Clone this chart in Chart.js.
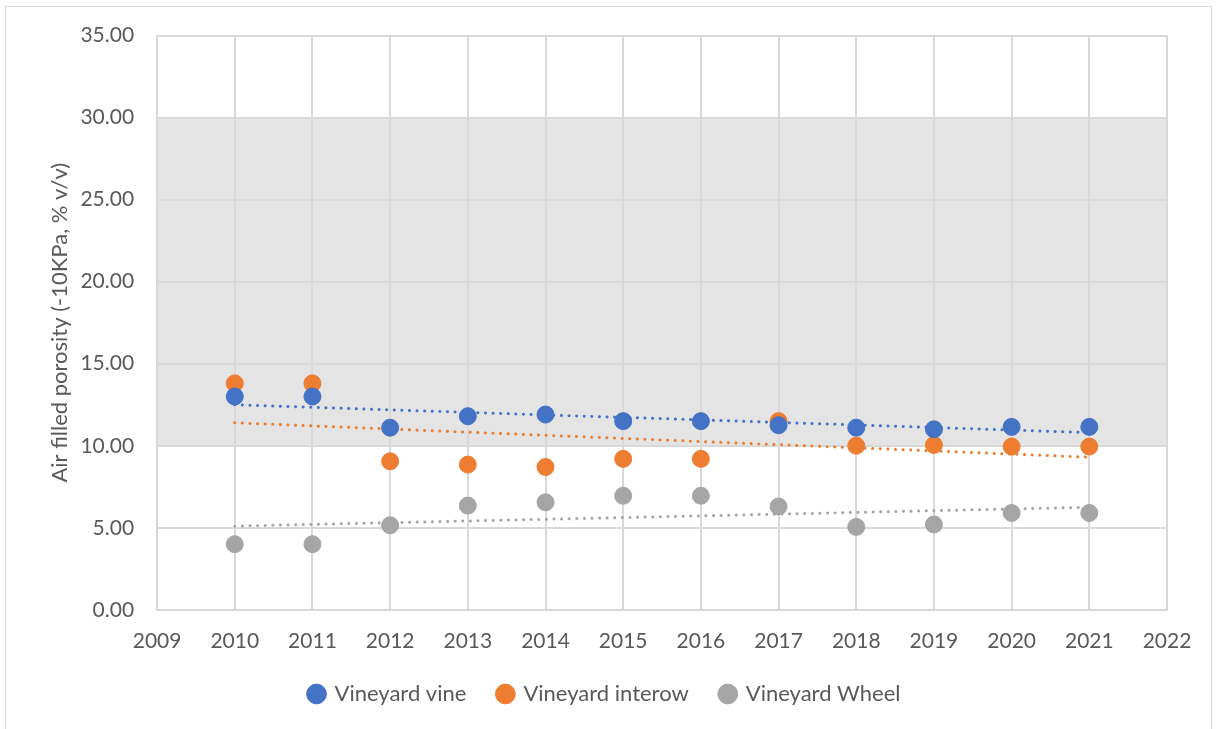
<!DOCTYPE html>
<html>
<head>
<meta charset="utf-8">
<script src="https://cdn.jsdelivr.net/npm/chart.js@4.4.1/dist/chart.umd.min.js"></script>
<style>
  html, body { margin: 0; padding: 0; background: #fff; }
  #wrap { position: relative; width: 1217px; height: 729px; }
  #frame { position: absolute; left: 5px; top: 6px; width: 1207px; height: 730px; border: 1px solid #d9d9d9; box-sizing: border-box; }
  canvas { position: absolute; left: 0; top: 0; }
</style>
</head>
<body>
<div id="wrap">
  <div id="frame"></div>
  <canvas id="myChart" width="1217" height="729"></canvas>
</div>
<script>
// data
const years = [2010, 2011, 2012, 2013, 2014, 2015, 2016, 2017, 2018, 2019, 2020, 2021]
const vine = [13.0, 13.0, 11.1, 11.8, 11.9, 11.5, 11.5, 11.25, 11.1, 11.0, 11.15, 11.15]
const interow = [13.8, 13.8, 9.05, 8.85, 8.7, 9.2, 9.2, 11.5, 10.0, 10.05, 9.95, 9.95]
const wheel = [4.0, 4.0, 5.15, 6.35, 6.55, 6.95, 6.95, 6.3, 5.05, 5.2, 5.9, 5.9]
// dotted trend lines, ends (2010 and 2021)
const trendYears = [2010, 2021]
const vineTrend = [12.5, 10.8]
const interowTrend = [11.4, 9.3]
const wheelTrend = [5.1, 6.25]
const bandRange = [10, 30]
const yTicksMax = 35

const blue = '#4472c4'
const orange = '#ed7d31'
const grey = '#a5a5a5'

let pts = (xs, ys) => xs.map((x, i) => ({x: x, y: ys[i]}))

let pointSet = (label, ys, color) => ({
  label: label,
  data: pts(years, ys),
  backgroundColor: color,
  borderColor: color,
  pointRadius: 8.5,
  pointHoverRadius: 8.5,
  showLine: false,
  order: 1
})

let trendSet = (ys, color) => ({
  label: 'trend',
  data: pts(trendYears, ys),
  borderColor: color,
  borderWidth: 3,
  borderDash: [0.1, 7.5],
  borderCapStyle: 'round',
  pointRadius: 0,
  showLine: true,
  fill: false,
  order: 2
})

// grey band drawn under the grid
const band = {
  id: 'band',
  beforeDraw(chart) {
    const {ctx, chartArea, scales} = chart
    const yTop = scales.y.getPixelForValue(bandRange[1])
    const yBot = scales.y.getPixelForValue(bandRange[0])
    ctx.save()
    ctx.fillStyle = '#e4e4e4'
    ctx.fillRect(chartArea.left, yTop, chartArea.right - chartArea.left, yBot - yTop)
    ctx.restore()
  }
}

const font = "Lato, 'Open Sans', sans-serif"

new Chart(document.getElementById('myChart'), {
  type: 'scatter',
  data: {
    datasets: [
      pointSet('Vineyard vine', vine, blue),
      pointSet('Vineyard interow', interow, orange),
      pointSet('Vineyard Wheel', wheel, grey),
      trendSet(vineTrend, blue),
      trendSet(interowTrend, orange),
      trendSet(wheelTrend, grey)
    ]
  },
  options: {
    responsive: false,
    animation: false,
    layout: { padding: { left: 43, right: 50, top: 26, bottom: 14 } },
    plugins: {
      tooltip: { enabled: false },
      legend: {
        position: 'bottom',
        labels: {
          filter: (item) => item.text !== 'trend',
          usePointStyle: true,
          pointStyle: 'circle',
          boxWidth: 14,
          boxHeight: 14,
          padding: 32,
          color: '#595959',
          font: { family: font, size: 22 }
        }
      }
    },
    scales: {
      x: {
        type: 'linear',
        min: 2009,
        max: 2022,
        afterFit: (s) => { s.height -= 22 },
        ticks: {
          stepSize: 1,
          color: '#595959',
          padding: 19,
          font: { family: font, size: 21 },
          callback: (v) => String(v)
        },
        grid: { color: '#d9d9d9', lineWidth: 2, drawTicks: false },
        border: { color: '#d9d9d9', width: 2 }
      },
      y: {
        min: 0,
        max: yTicksMax,
        afterFit: (s) => { s.width -= 16 },
        ticks: {
          stepSize: 5,
          color: '#595959',
          padding: 23,
          font: { family: font, size: 21 },
          callback: (v) => v.toFixed(2)
        },
        grid: { color: '#d9d9d9', lineWidth: 2, drawTicks: false },
        border: { color: '#d9d9d9', width: 2 },
        title: {
          display: true,
          text: 'Air filled porosity (-10KPa, % v/v)',
          color: '#595959',
          padding: { top: 4, bottom: 0 },
          font: { family: font, size: 22 }
        }
      }
    }
  },
  plugins: [band]
})
</script>
</body>
</html>
